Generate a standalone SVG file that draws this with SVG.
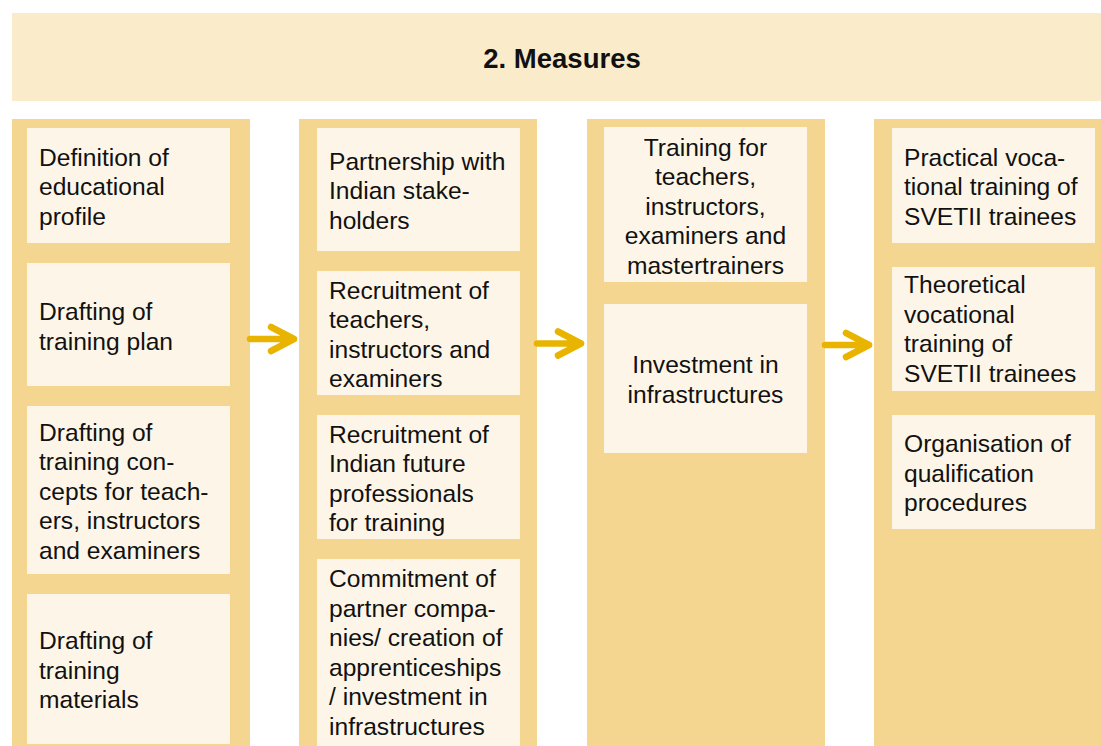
<svg xmlns="http://www.w3.org/2000/svg" width="1101" height="746" viewBox="0 0 1101 746">
<style>
.hdr{fill:#FAEBCB}
.col{fill:#F5D691}
.box{fill:#FDF6E8}
text{font-family:"Liberation Sans",Arial,sans-serif;font-size:24.6px;fill:#111}
.c{text-anchor:middle}
.t{font-weight:bold;text-anchor:middle;font-size:27.5px}
.arr{fill:none;stroke:#E8B400;stroke-width:6.5;stroke-linecap:round;stroke-linejoin:round}
</style>
<rect x="0" y="0" width="1101" height="746" fill="#fff"/>
<g id="header">
<rect class="hdr" x="12" y="13" width="1100" height="88"/>
<text class="t" x="562" y="68">2. Measures</text>
</g>
<g id="col1">
<rect class="col" x="12" y="119" width="238" height="640"/>
<g id="n1a"><rect class="box" x="27" y="128" width="203" height="115"/>
<text x="39" y="165.5">Definition of</text><text x="39" y="195">educational</text><text x="39" y="224.5">profile</text></g>
<g id="n1b"><rect class="box" x="27" y="263" width="203" height="123"/>
<text x="39" y="320">Drafting of</text><text x="39" y="349.5">training plan</text></g>
<g id="n1c"><rect class="box" x="27" y="406" width="203" height="168"/>
<text x="39" y="440.5">Drafting of</text><text x="39" y="470">training con-</text><text x="39" y="499.5">cepts for teach-</text><text x="39" y="529">ers, instructors</text><text x="39" y="558.5">and examiners</text></g>
<g id="n1d"><rect class="box" x="27" y="594" width="203" height="150"/>
<text x="39" y="649">Drafting of</text><text x="39" y="678.5">training</text><text x="39" y="708">materials</text></g>
</g>
<g id="col2">
<rect class="col" x="299" y="119" width="238" height="640"/>
<g id="n2a"><rect class="box" x="317" y="128" width="203" height="123"/>
<text x="329" y="169.5">Partnership with</text><text x="329" y="199">Indian stake-</text><text x="329" y="228.5">holders</text></g>
<g id="n2b"><rect class="box" x="317" y="271" width="203" height="124"/>
<text x="329" y="298.5">Recruitment of</text><text x="329" y="328">teachers,</text><text x="329" y="357.5">instructors and</text><text x="329" y="387">examiners</text></g>
<g id="n2c"><rect class="box" x="317" y="415" width="203" height="124"/>
<text x="329" y="442.5">Recruitment of</text><text x="329" y="472">Indian future</text><text x="329" y="501.5">professionals</text><text x="329" y="531">for training</text></g>
<g id="n2d"><rect class="box" x="317" y="559" width="203" height="187"/>
<text x="329" y="587">Commitment of</text><text x="329" y="616.5">partner compa-</text><text x="329" y="646">nies/ creation of</text><text x="329" y="675.5">apprenticeships</text><text x="329" y="705">/ investment in</text><text x="329" y="734.5">infrastructures</text></g>
</g>
<g id="col3">
<rect class="col" x="587" y="119" width="238" height="640"/>
<g id="n3a"><rect class="box" x="604" y="127" width="203" height="155"/>
<text class="c" x="705.5" y="155.5">Training for</text><text class="c" x="705.5" y="185">teachers,</text><text class="c" x="705.5" y="214.5">instructors,</text><text class="c" x="705.5" y="244">examiners and</text><text class="c" x="705.5" y="273.5">mastertrainers</text></g>
<g id="n3b"><rect class="box" x="604" y="304" width="203" height="149"/>
<text class="c" x="705.5" y="373">Investment in</text><text class="c" x="705.5" y="402.5">infrastructures</text></g>
</g>
<g id="col4">
<rect class="col" x="874" y="119" width="238" height="640"/>
<g id="n4a"><rect class="box" x="892" y="128" width="203" height="115"/>
<text x="904" y="165.5">Practical voca-</text><text x="904" y="195">tional training of</text><text x="904" y="224.5">SVETII trainees</text></g>
<g id="n4b"><rect class="box" x="892" y="267" width="203" height="124"/>
<text x="904" y="293">Theoretical</text><text x="904" y="322.5">vocational</text><text x="904" y="352">training of</text><text x="904" y="381.5">SVETII trainees</text></g>
<g id="n4c"><rect class="box" x="892" y="415" width="203" height="114"/>
<text x="904" y="452">Organisation of</text><text x="904" y="481.5">qualification</text><text x="904" y="511">procedures</text></g>
</g>
<g id="connectors">
<path class="arr" d="M250 339 H294 M271 327 L294 339 L271 351"/>
<path class="arr" d="M537 343.5 H581 M558 331.5 L581 343.5 L558 355.5"/>
<path class="arr" d="M825 345 H869 M846 333 L869 345 L846 357"/>
</g>
</svg>
